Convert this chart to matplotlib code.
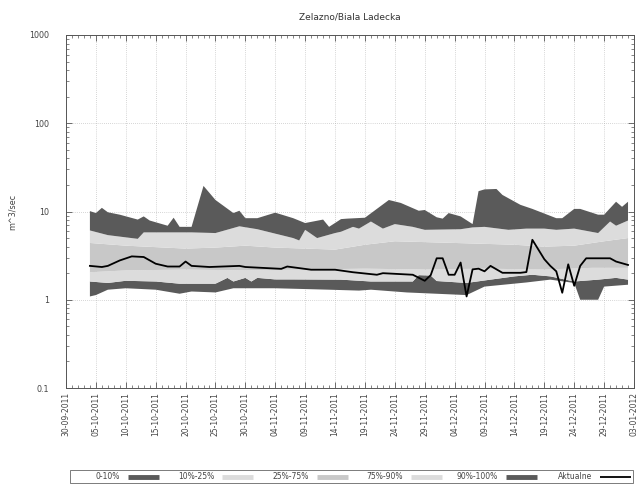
import numpy as np
import matplotlib
matplotlib.use("Agg")
import matplotlib.pyplot as plt
import matplotlib.dates as mdates
from matplotlib.lines import Line2D
from matplotlib.patches import Rectangle
from matplotlib.ticker import FixedLocator, LogLocator, NullFormatter

START = np.datetime64("2011-09-30")
TITLE = "Zelazno/Biala Ladecka"
YLABEL = "m^3/sec"

# Percentile envelopes (day offset from START, flow in m^3/s)
p0_days = [4, 5, 7, 10, 15, 19, 21, 25, 28, 35, 44, 49, 51, 57, 67, 70, 77, 81,
           85, 86, 89, 90, 94]
p0_vals = [1.09, 1.13, 1.30, 1.35, 1.30, 1.17, 1.24, 1.21, 1.35, 1.35, 1.30, 1.27,
           1.30, 1.21, 1.13, 1.41, 1.57, 1.69, 1.55, 1.00, 1.00, 1.41, 1.48]

p10_days = [4, 7, 10, 15, 19, 25, 27, 28, 30, 31, 32, 35, 38, 46, 51, 58, 59, 61,
            62, 67, 71, 75, 78, 81, 85, 89, 92, 94]
p10_vals = [1.61, 1.55, 1.64, 1.61, 1.52, 1.52, 1.77, 1.61, 1.77, 1.61, 1.77, 1.70,
            1.70, 1.69, 1.61, 1.61, 1.90, 1.88, 1.63, 1.55, 1.69, 1.84, 1.92, 1.84,
            1.61, 1.69, 1.77, 1.69]

p25_days = [4, 10, 20, 30, 40, 50, 60, 70, 80, 88, 94]
p25_vals = [2.05, 2.15, 2.20, 2.15, 2.20, 2.25, 2.20, 2.25, 2.20, 2.30, 2.30]

p75_days = [4, 10, 20, 25, 30, 35, 40, 45, 50, 55, 60, 65, 70, 75, 80, 85, 90, 94]
p75_vals = [4.4, 4.1, 3.8, 3.9, 4.1, 3.9, 3.8, 3.7, 4.2, 4.6, 4.5, 4.4, 4.3, 4.2,
            4.0, 4.1, 4.6, 5.0]

p90_days = [4, 7, 12, 13, 21, 25, 29, 32, 38, 39, 40, 42, 45, 46, 48, 49, 51, 53,
            55, 58, 60, 66, 68, 70, 74, 77, 80, 82, 85, 89, 91, 92, 94]
p90_vals = [6.1, 5.4, 4.9, 5.8, 5.8, 5.7, 6.8, 6.3, 5.0, 4.7, 6.2, 5.0, 5.7, 5.9,
            6.7, 6.4, 7.7, 6.4, 7.2, 6.7, 6.2, 6.3, 6.6, 6.7, 6.2, 6.4, 6.4, 6.2,
            6.4, 5.7, 7.7, 6.9, 7.9]

p100_days = [4, 5, 6, 7, 9, 12, 13, 14, 17, 18, 19, 21, 23, 25, 28, 29, 30, 32, 35,
             38, 40, 43, 44, 46, 47, 50, 54, 56, 59, 60, 62, 63, 64, 66, 68, 69, 70,
             72, 73, 76, 78, 82, 83, 85, 86, 89, 90, 92, 93, 94]
p100_vals = [10.1, 9.6, 11.0, 9.8, 9.2, 8.1, 8.8, 7.9, 6.9, 8.5, 6.7, 6.7, 19.5,
             13.5, 9.6, 10.2, 8.4, 8.4, 9.7, 8.4, 7.4, 8.1, 6.7, 8.2, 8.3, 8.5, 13.5,
             12.5, 10.2, 10.4, 8.6, 8.3, 9.6, 8.8, 7.2, 17.0, 17.8, 18.0, 15.4, 11.9,
             10.7, 8.4, 8.4, 10.7, 10.7, 9.2, 9.2, 12.9, 11.3, 12.9]

# Current flow
cur_days = [4, 6, 7, 9, 11, 13, 15, 17, 19, 20, 21, 24, 29, 30, 36, 37, 41, 45, 48,
            52, 53, 58, 60, 61, 62, 63, 64, 65, 66, 67, 68, 69, 70, 71, 73, 76, 77,
            78, 80, 81, 82, 83, 84, 85, 86, 87, 91, 92, 94]
cur_vals = [2.42, 2.35, 2.42, 2.79, 3.10, 3.05, 2.56, 2.38, 2.38, 2.71, 2.42, 2.35,
            2.42, 2.35, 2.24, 2.38, 2.19, 2.19, 2.05, 1.92, 2.00, 1.92, 1.64, 1.90,
            2.95, 2.95, 1.92, 1.92, 2.64, 1.09, 2.21, 2.25, 2.10, 2.42, 2.02, 2.02,
            2.06, 4.78, 2.88, 2.42, 2.10, 1.20, 2.52, 1.44, 2.42, 2.95, 2.95, 2.71,
            2.48]

band_labels = ["0-10%", "10%-25%", "25%-75%", "75%-90%", "90%-100%"]
line_label = "Aktualne"

DARK = "#5a5a5a"
LIGHT = "#dcdcdc"
MID = "#c8c8c8"
band_colors = [DARK, LIGHT, MID, LIGHT, DARK]

W, H = 637, 484


def to_num(days):
    return mdates.date2num(START + np.array(days, dtype="timedelta64[D]"))


def fx(px):
    return px / W


def fy(py):
    return 1 - py / H


bounds = [(p0_days, p0_vals), (p10_days, p10_vals), (p25_days, p25_vals),
          (p75_days, p75_vals), (p90_days, p90_vals), (p100_days, p100_vals)]

fig = plt.figure(figsize=(W / 100, H / 100), dpi=100)
ax = fig.add_axes([fx(66), fy(388), 568 / W, 353 / H])

for i, color in enumerate(band_colors):
    ld, lv = bounds[i]
    ud, uv = bounds[i + 1]
    xs = np.concatenate([to_num(ud), to_num(ld)[::-1]])
    ys = np.concatenate([uv, lv[::-1]])
    ax.fill(xs, ys, color=color, lw=0, zorder=2)

ax.plot(to_num(cur_days), cur_vals, color="black", lw=1.3, zorder=3)

ax.set_yscale("log")
ax.set_ylim(0.1, 1000)
ax.set_xlim(to_num([0])[0], to_num([95])[0])

ytick_vals = [0.1, 1, 10, 100, 1000]
ytick_labels = ["0.1", "1", "10", "100", "1000"]
ax.set_yticks(ytick_vals)
ax.set_yticklabels(ytick_labels)
ax.yaxis.set_minor_locator(LogLocator(base=10, subs=np.arange(2, 10)))
ax.yaxis.set_minor_formatter(NullFormatter())

major_days = list(range(0, 96, 5))
ax.xaxis.set_major_locator(FixedLocator(to_num(major_days)))
ax.xaxis.set_minor_locator(FixedLocator(to_num(list(range(0, 96)))))
ax.xaxis.set_major_formatter(mdates.DateFormatter("%d-%m-%Y"))
plt.setp(ax.get_xticklabels(), rotation=90, ha="center", va="top")

ax.tick_params(which="both", direction="in", top=True, right=True,
               colors="#555555", labelcolor="#444444")
ax.tick_params(which="major", length=4, width=0.6)
ax.tick_params(which="minor", length=2, width=0.5)
ax.tick_params(axis="x", labelsize=5.5, pad=3)
ax.tick_params(axis="y", labelsize=5.8, pad=12)

ax.grid(True, which="major", color="#b0b0b0", linestyle=(0, (1, 2)), lw=0.5, zorder=1)
for s in ax.spines.values():
    s.set_color("#555555")
    s.set_linewidth(0.7)

fig.text(fx(350), fy(17), TITLE, fontsize=6.5, color="#333333",
         ha="center", va="center")
fig.text(fx(12), fy(212), YLABEL, rotation=90, fontsize=5.8,
         color="#444444", ha="center", va="center")

# Horizontal key below the plot: label, then sample, right-aligned in each slot
box_l, box_r, box_t, box_b = 70, 633, 470, 483
fig.add_artist(Rectangle((fx(box_l), fy(box_b)), fx(box_r) - fx(box_l),
                         fy(box_t) - fy(box_b), transform=fig.transFigure,
                         fill=False, edgecolor="#666666", lw=0.6))
key_labels = band_labels + [line_label]
key_colors = band_colors + ["black"]
key_widths = [3.5] * 5 + [1.3]
row_y = (box_t + box_b) / 2
for i, (lab, col, lw) in enumerate(zip(key_labels, key_colors, key_widths)):
    sw_r = 159 + 94.4 * i
    sw_l = sw_r - 31
    fig.add_artist(Line2D([fx(sw_l), fx(sw_r)], [fy(row_y), fy(row_y)],
                          transform=fig.transFigure, color=col, lw=lw,
                          solid_capstyle="butt"))
    fig.text(fx(sw_l - 8), fy(row_y), lab, fontsize=5.5, color="#444444",
             ha="right", va="center")

fig.savefig("out.png", dpi=100)
